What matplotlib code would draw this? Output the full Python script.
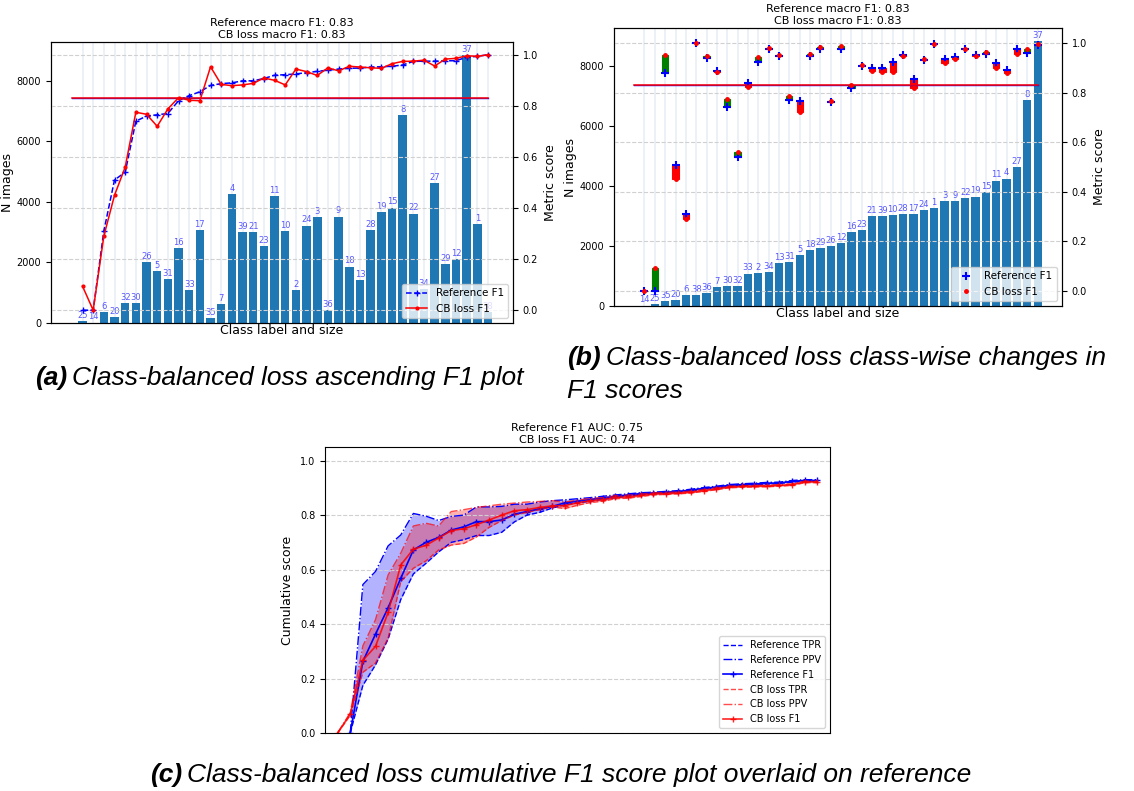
import numpy as np
import matplotlib
matplotlib.use("Agg")
import matplotlib.pyplot as plt

# classes in ascending reference-F1 order (panel a)
classes = [25, 14, 6, 20, 32, 30, 26, 5, 31, 16, 33, 17, 35, 7, 4, 39, 21, 23, 11, 10,
           2, 24, 3, 36, 9, 18, 13, 28, 19, 15, 8, 22, 34, 27, 29, 12, 37, 1, 38]
sizes = [56, 12, 360, 190, 660, 655, 2000, 1700, 1460, 2460, 1085, 3070, 155, 625, 4250, 3000, 2995, 2540, 4180, 3040,
         1090, 3210, 3505, 420, 3510, 1860, 1420, 3065, 3650, 3810, 6860, 3610, 1130, 4620, 1940, 2100, 8830, 3270, 365]
ref_f1 = [0.0, 0.0, 0.31, 0.51, 0.54, 0.74, 0.76, 0.765, 0.77, 0.82, 0.84, 0.855, 0.88, 0.887, 0.89, 0.898, 0.898, 0.907, 0.92, 0.922,
          0.925, 0.93, 0.935, 0.94, 0.944, 0.947, 0.948, 0.952, 0.953, 0.955, 0.96, 0.974, 0.975, 0.975, 0.976, 0.977, 0.99, 0.994, 1.0]
cb_f1 = [0.094, 0.0, 0.29, 0.45, 0.56, 0.775, 0.767, 0.72, 0.788, 0.832, 0.822, 0.82, 0.953, 0.884, 0.879, 0.882, 0.888, 0.909, 0.90, 0.882,
         0.944, 0.934, 0.919, 0.949, 0.937, 0.955, 0.952, 0.949, 0.947, 0.965, 0.974, 0.975, 0.979, 0.956, 0.983, 0.986, 0.996, 0.994, 1.0]
ref_macro = 0.83
cb_macro = 0.83

# cumulative curves (panel c)
ref_tpr = [np.nan, 0.0, 0.175, 0.25, 0.345, 0.49, 0.584, 0.623, 0.665, 0.70, 0.71, 0.725, 0.725, 0.737, 0.775, 0.80, 0.81, 0.826, 0.838, 0.845,
           0.851, 0.858, 0.864, 0.870, 0.875, 0.878, 0.881, 0.884, 0.889, 0.895, 0.900, 0.906, 0.909, 0.911, 0.914, 0.916, 0.921, 0.924, 0.924]
ref_ppv = [np.nan, 0.0, 0.545, 0.593, 0.687, 0.727, 0.806, 0.796, 0.78, 0.795, 0.80, 0.83, 0.83, 0.832, 0.84, 0.84, 0.848, 0.853, 0.856, 0.86,
           0.864, 0.869, 0.874, 0.878, 0.882, 0.884, 0.887, 0.890, 0.895, 0.901, 0.906, 0.912, 0.915, 0.917, 0.920, 0.921, 0.927, 0.930, 0.930]
ref_cum = [np.nan, 0.0, 0.263, 0.363, 0.46, 0.568, 0.672, 0.70, 0.718, 0.745, 0.757, 0.776, 0.776, 0.782, 0.803, 0.813, 0.823, 0.832, 0.845, 0.851,
           0.857, 0.863, 0.869, 0.874, 0.879, 0.881, 0.884, 0.887, 0.892, 0.898, 0.903, 0.909, 0.912, 0.914, 0.917, 0.918, 0.924, 0.927, 0.927]
cb_tpr = [0.0, 0.065, 0.223, 0.257, 0.348, 0.556, 0.605, 0.632, 0.672, 0.69, 0.696, 0.72, 0.755, 0.78, 0.80, 0.81, 0.82, 0.83, 0.824, 0.836,
          0.846, 0.851, 0.860, 0.862, 0.868, 0.874, 0.876, 0.878, 0.881, 0.887, 0.893, 0.900, 0.902, 0.903, 0.904, 0.906, 0.909, 0.919, 0.919]
cb_ppv = [0.0, 0.075, 0.32, 0.416, 0.58, 0.66, 0.76, 0.77, 0.76, 0.813, 0.82, 0.828, 0.834, 0.84, 0.844, 0.848, 0.85, 0.853, 0.848, 0.855,
          0.861, 0.864, 0.871, 0.873, 0.877, 0.882, 0.883, 0.885, 0.888, 0.894, 0.900, 0.906, 0.908, 0.909, 0.910, 0.912, 0.915, 0.925, 0.925]
cb_cum = [0.0, 0.07, 0.267, 0.318, 0.443, 0.617, 0.675, 0.689, 0.716, 0.743, 0.75, 0.765, 0.782, 0.80, 0.816, 0.82, 0.828, 0.834, 0.835, 0.845,
          0.853, 0.857, 0.865, 0.867, 0.872, 0.878, 0.879, 0.881, 0.884, 0.89, 0.896, 0.903, 0.905, 0.906, 0.907, 0.909, 0.912, 0.922, 0.922]
ref_auc = 0.75
cb_auc = 0.74

LBL = dict(fontsize=6, color=(0, 0, 1, 0.65), ha="center", va="bottom")

fig = plt.figure(figsize=(11.34, 7.91), dpi=100)


def class_axes(rect, order, title):
    ax = fig.add_axes(rect)
    n = len(order)
    x = np.arange(n)
    h = np.array(sizes)[order]
    ax.set_axisbelow(True)
    ax.set_xticks(x)
    ax.grid(axis="x", color="#e6edf5", lw=1.1)
    ax.bar(x, h, width=0.8, color="#1f77b4")
    for xi, hi, c in zip(x, h, np.array(classes)[order]):
        ax.text(xi, hi + 40, str(c), **LBL)
    ax.tick_params(axis="x", length=0, labelbottom=False)
    ax.tick_params(axis="y", labelsize=7)
    ax.set_ylim(0, max(sizes) * 1.05)
    ax.set_xlim(-2.95, n + 1.35)
    ax.set_ylabel("N images", fontsize=9, labelpad=2)
    ax.set_xlabel("Class label and size", fontsize=9, labelpad=1)
    ax.set_title(title, fontsize=8, pad=3)
    ax2 = ax.twinx()
    ax2.grid(axis="y", ls="--", color="#d0d0d0", lw=0.8)
    ax2.tick_params(axis="y", labelsize=7)
    ax2.set_ylabel("Metric score", fontsize=9)
    ax2.plot([-1, n - 1], [ref_macro, ref_macro], color="b", lw=1)
    ax2.plot([-1, n - 1], [cb_macro, cb_macro], color="r", lw=1.1)
    return ax, ax2, x


title_ab = f"Reference macro F1: {ref_macro:.2f}\nCB loss macro F1: {cb_macro:.2f}"

# ---- (a) ascending F1 ----
order_a = np.argsort(ref_f1, kind="stable")
ax, ax2, x = class_axes([0.045, 0.5917, 0.4074, 0.3552], order_a, title_ab)
ax2.plot(x, np.array(ref_f1)[order_a], "b--", marker="+", ms=5, lw=1.1, label="Reference F1")
ax2.plot(x, np.array(cb_f1)[order_a], "r-", marker=".", ms=4, lw=1.1, label="CB loss F1")
ax2.set_ylim(-0.05, 1.05)
ax2.legend(loc="lower right", fontsize=7.5)

# ---- (b) class-wise changes, sorted by size ----
order_b = np.argsort(sizes, kind="stable")
ax, ax2, x = class_axes([0.5414, 0.6131, 0.3951, 0.3515], order_b, title_ab)
r = np.array(ref_f1)[order_b]
c = np.array(cb_f1)[order_b]
cols = np.where(c >= r, "green", "red")
ax2.bar(x, c - r, bottom=r, width=0.6, color=cols, edgecolor=cols, lw=0.8)
ax2.plot(x, r, "b+", ms=6, mew=1.5, label="Reference F1")
ax2.plot(x, c, "r.", ms=5, label="CB loss F1")
ax2.set_ylim(-0.06, 1.06)
ax2.legend(loc="lower right", fontsize=7.5)

# ---- (c) cumulative ----
ax = fig.add_axes([0.2866, 0.0733, 0.4453, 0.3616])
xc = np.arange(len(cb_cum))
ax.fill_between(xc, ref_tpr, ref_ppv, color="blue", alpha=0.3, lw=0)
ax.fill_between(xc, cb_tpr, cb_ppv, color="red", alpha=0.3, lw=0)
ax.plot(xc, ref_tpr, "b--", lw=1, label="Reference TPR")
ax.plot(xc, ref_ppv, "b-.", lw=1, label="Reference PPV")
ax.plot(xc, ref_cum, "b-", marker="+", ms=5, lw=1.2, label="Reference F1")
ax.plot(xc, cb_tpr, "r--", lw=1, alpha=0.7, label="CB loss TPR")
ax.plot(xc, cb_ppv, "r-.", lw=1, alpha=0.7, label="CB loss PPV")
ax.plot(xc, cb_cum, "r-", marker="+", ms=5, lw=1.2, alpha=0.85, label="CB loss F1")
ax.set_ylim(0, 1.05)
ax.set_xlim(-1, len(cb_cum))
ax.set_xticks([])
ax.tick_params(axis="y", labelsize=7)
ax.grid(axis="y", ls="--", color="#d0d0d0", lw=0.8)
ax.set_ylabel("Cumulative score", fontsize=9)
ax.set_title(f"Reference F1 AUC: {ref_auc:.2f}\nCB loss F1 AUC: {cb_auc:.2f}", fontsize=8, pad=3)
ax.legend(loc="lower right", fontsize=7)

# ---- captions ----
cap = dict(family="Liberation Sans", fontsize=19, style="italic")

fig.canvas.draw()
rend = fig.canvas.get_renderer()


def caption(x, y, tag, rest, ha="left"):
    t = fig.text(x, y, tag, fontweight="bold", va="center", **cap)
    bb = t.get_window_extent(rend)
    t2 = fig.text((bb.x1 + 5) / fig.bbox.width, y, rest, va="center", **cap)
    if ha == "center":
        bb2 = t2.get_window_extent(rend)
        shift = (bb2.x1 - bb.x0) / 2 / fig.bbox.width
        t.set_x(x - shift)
        t2.set_x(t2.get_position()[0] - shift)


caption(35 / 1134, 1 - 378 / 791, "(a)", "Class-balanced loss ascending F1 plot")
caption(567 / 1134, 1 - 358 / 791, "(b)", "Class-balanced loss class-wise changes in")
fig.text(567 / 1134, 1 - 391 / 791, "F1 scores", va="center", **cap)
caption(561 / 1134, 1 - 775 / 791, "(c)", "Class-balanced loss cumulative F1 score plot overlaid on reference", ha="center")

fig.savefig("out.png", dpi=100)
